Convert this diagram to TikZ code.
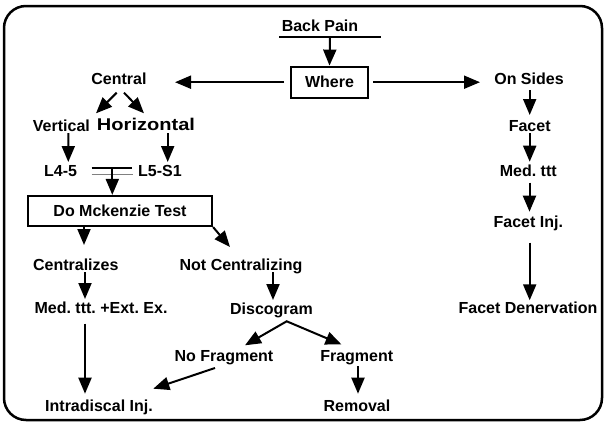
\documentclass[tikz,border=0pt]{standalone}
\usepackage{fontspec}
\setmainfont{Liberation Sans}
\usetikzlibrary{arrows.meta}
\frenchspacing
\begin{document}
\begin{tikzpicture}[x=1pt,y=-1pt,
  lbl/.style={inner sep=0pt,text height=11.5pt,text depth=0pt,font=\fontsize{16}{19}\selectfont\bfseries\frenchspacing},
  boxnode/.style={lbl,draw,line width=2.2pt,minimum height=31pt},
  arr/.style={line width=2pt,-{Triangle[length=16pt,width=13pt]}},
  plain/.style={line width=2pt}]
\useasboundingbox (0,0) rectangle (606,423);
\draw[line width=2.5pt,rounded corners=22pt] (4,6) rectangle (602,420);

% nodes
\node[lbl] (backpain) at (320,26) {Back Pain};
\node[boxnode,minimum width=77pt] (where) at (329.5,82.2) {Where};
\node[lbl] (central) at (119,79) {Central};
\node[lbl] (onsides) at (529,79) {On Sides};
\node[lbl] (vert) at (61.4,126) {Vertical};
\node[lbl,font=\fontsize{17}{20}\selectfont\bfseries,xscale=1.18] (horiz) at (146,125) {Horizontal};
\node[lbl] (l45) at (60.6,171) {L4-5};
\node[lbl] (l5s1) at (160,171) {L5-S1};
\node[boxnode,minimum width=184pt,minimum height=30pt] (mck) at (120,211) {Do Mckenzie Test};
\node[lbl] (centr) at (75.8,264.3) {Centralizes};
\node[lbl] (notc) at (241,264.3) {Not Centralizing};
\node[lbl] (medext) at (101,307.7) {Med. ttt. +Ext. Ex.};
\node[lbl] (disco) at (271.5,308.5) {Discogram};
\node[lbl] (nofrag) at (224,355.3) {No Fragment};
\node[lbl] (frag) at (356.7,355.3) {Fragment};
\node[lbl] (intra) at (99,405.3) {Intradiscal Inj.};
\node[lbl] (removal) at (357,405.3) {Removal};
\node[lbl] (facet) at (529.7,126) {Facet};
\node[lbl] (medttt) at (528.3,170.7) {Med. ttt};
\node[lbl] (facetinj) at (528.3,221.7) {Facet Inj.};
\node[lbl] (facetden) at (528,307.7) {Facet Denervation};

% back pain bar
\draw[plain] ([shift={(-41,11)}]backpain.center) -- ([shift={(61,11)}]backpain.center);
\draw[arr] ([shift={(10,11)}]backpain.center) -- (where.north);

% where -> sides
\draw[arr] ([shift={(-45.5,0)}]where.center) -- ([shift={(56,3.2)}]central.center);
\draw[arr] ([shift={(43.5,0)}]where.center) -- ([shift={(-49,3.2)}]onsides.center);

% central split
\draw[arr] ([shift={(-2.3,13.7)}]central.center) -- ([shift={(34.6,-12.7)}]vert.center);
\draw[arr] ([shift={(5,13.7)}]central.center) -- ([shift={(-2,-11.7)}]horiz.center);

% vertical / horizontal down
\draw[arr] ([shift={(6.9,7)}]vert.center) -- ([shift={(7.7,-9)}]l45.center);
\draw[arr] ([shift={(21.7,8)}]horiz.center) -- ([shift={(7.7,-9)}]l5s1.center);

% double bar and arrow to test
\draw[plain] ([shift={(31.1,-3)}]l45.center) -- ([shift={(71.1,-3)}]l45.center);
\draw[line width=1.6pt,gray] ([shift={(31.1,3.5)}]l45.center) -- ([shift={(72.4,3.5)}]l45.center);
\draw[arr] ([shift={(51.7,-3)}]l45.center) -- ([shift={(-7.7,0)}]mck.north);

% test outcomes
\draw[arr] ([shift={(-36,0)}]mck.south) -- ([shift={(8.2,-19.3)}]centr.center);
\draw[arr] (mck.south east) -- ([shift={(-11,-17.3)}]notc.center);
\draw[arr] ([shift={(9.2,7.7)}]centr.center) -- ([shift={(-16,-8.7)}]medext.center);
\draw[arr] ([shift={(32,7.7)}]notc.center) -- ([shift={(1.5,-8.5)}]disco.center);

% discogram split
\draw[line width=2pt,{Triangle[length=16pt,width=13pt]}-{Triangle[length=16pt,width=13pt]},line join=miter]
  ([shift={(21,-10)}]nofrag.center) -- ([shift={(15.2,12.8)}]disco.center) -- ([shift={(-15.2,-10.8)}]frag.center);

% bottom
\draw[arr] ([shift={(-9,12.7)}]nofrag.center) -- ([shift={(54.3,-16.6)}]intra.center);
\draw[arr] ([shift={(-16,16)}]medext.center) -- ([shift={(-14,-11.6)}]intra.center);
\draw[arr] ([shift={(1.3,10.7)}]frag.center) -- ([shift={(1,-11.6)}]removal.center);

% right column
\draw[arr] ([shift={(0.7,11)}]onsides.center) -- ([shift={(0,-11)}]facet.center);
\draw[arr] ([shift={(0,7)}]facet.center) -- ([shift={(1.4,-9)}]medttt.center);
\draw[arr] ([shift={(1.2,12)}]medttt.center) -- ([shift={(1.2,-10)}]facetinj.center);
\draw[arr] ([shift={(1.4,21)}]facetinj.center) -- ([shift={(1.7,-7.4)}]facetden.center);
\end{tikzpicture}
\end{document}
